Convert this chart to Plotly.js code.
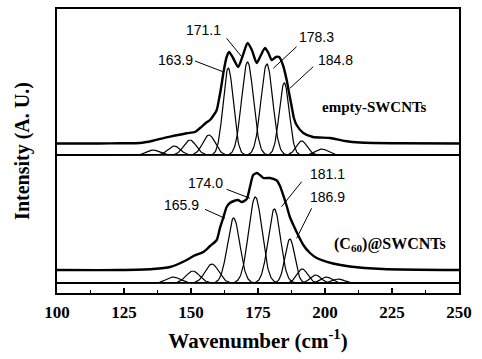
<!DOCTYPE html>
<html><head><meta charset="utf-8">
<script src="https://cdn.plot.ly/plotly-3.0.1.min.js"></script>
<style>html,body{margin:0;padding:0;background:#fff}#chart{width:482px;height:359px}</style>
</head><body><div id="chart"></div>
<script>
const emptyWavenumber = [100,116,123.5,131,135.8,142.2,148.4,151.5,153.4,155.5,157.1,158.5,159.6,160.4,161.2,162.2,163.3,164.2,165.7,167.6,169.4,171.1,172.7,174.5,176.1,177.6,178.9,180.1,181.7,182.9,184.3,185.7,186.6,187.6,188.4,189.4,191.9,195.5,201.9,207.5,213,228,250];
const emptyIntensity  = [149.5,149.5,149.7,150,152.3,156.3,159.7,161,165,170,173,178,183,193,205,222,236,241,235,226,238,250,243,230,238,245,240,233,236,236,228,213,200,186,175,168,160,156,155,152,150.5,149.7,149.5];

const c60Wavenumber = [100,123.5,135.8,142.2,148.4,150.9,154.6,157.1,159.6,160.8,162,163.3,164.5,166,167.5,169,170.8,172,173.2,174.6,175.7,177,179.5,182,183.2,184.4,185.7,186.9,188.2,189.4,191.9,194.4,196.9,203,209.3,221.6,250];
const c60Intensity  = [23,23,24,26,33,37,41,47,53,65,75,86,90,92,93,91,94,106,118,120,118,115,115,112.5,107,98,87,76,68,61,48,40,35,29.5,26.5,24,23];

// ---- fitted components: centre (cm-1), height, width (sigma, cm-1) ----
const emptyPeakCenters = [135.8,143.7,149.6,156.7,163.9,171.1,178.3,184.8,191.3,198.8];
const emptyPeakHeights = [5,9,15,20,87,93,91,72,14,6];
const emptyPeakWidths  = [2.3,2.3,2.3,2.3,1.9,2.2,2.2,1.85,2.0,2.3];
const emptyBaseline = 138;

const c60PeakCenters = [143.3,150.7,157.8,165.9,174.0,181.1,186.9,191.5,196.5,200.5,205];
const c60PeakHeights = [6,12,19,65,86,74,44,14,8,6,4];
const c60PeakWidths  = [2.5,2.5,2.5,2.3,2.5,2.3,1.8,2.0,2.0,2.0,2.2];
const c60Baseline = 10;

// ---- labels ----
const peakLabels = ['163.9','171.1','178.3','184.8','165.9','174.0','181.1','186.9'];
const xTickVals = [100,125,150,175,200,225,250];

const grid = [];
for (let x = 100; x <= 250.0001; x += 0.2) grid.push(+x.toFixed(2));

function comp(c, h, s, base) {
  return grid.map(x => base + h * Math.exp(-((x - c) ** 2) / (2 * s * s)));
}

const traces = [];
const compLine = {color:'#000', width:1.2};
emptyPeakCenters.forEach((c, i) => traces.push({x:grid, y:comp(c, emptyPeakHeights[i], emptyPeakWidths[i], emptyBaseline), mode:'lines', line:compLine, hoverinfo:'skip'}));
c60PeakCenters.forEach((c, i) => traces.push({x:grid, y:comp(c, c60PeakHeights[i], c60PeakWidths[i], c60Baseline), mode:'lines', line:compLine, hoverinfo:'skip'}));
traces.push({x:emptyWavenumber, y:emptyIntensity, mode:'lines', line:{color:'#000', width:2.4, shape:'spline', smoothing:0.6}});
traces.push({x:c60Wavenumber, y:c60Intensity, mode:'lines', line:{color:'#000', width:2.4, shape:'spline', smoothing:0.6}});

const serifFam = 'Liberation Serif, Times New Roman, serif';
const numFont = {family:'Liberation Sans, Arial, sans-serif', size:14, color:'#000'};
const serifBold = {family:serifFam, size:15, color:'#000', weight:'bold'};

const labelPos = [[144.4,233],[154.5,263],[196.9,256],[203.9,233],[146.5,88],[155.4,110.5],[200.9,119.5],[200.9,96.3]];
const leaders = [
  [151.5,232,161.9,221.3],[163.3,254.7,168.9,236.3],[189.4,246.3,180.7,224.7],[195.6,226.3,186.9,204.7],
  [155.2,83.7,162.7,74.7],[163.3,103.7,172,94.7],[191.3,111.3,183.8,86.3],[195,84.7,189.4,54.7]
];

const annotations = peakLabels.map((t, i) => ({x:labelPos[i][0], y:labelPos[i][1], xref:'x', yref:'y', text:t, showarrow:false, font:numFont}));
annotations.push({x:218.6, y:186, xref:'x', yref:'y', text:'<b>empty-SWCNTs</b>', showarrow:false, font:serifBold});
annotations.push({x:224.2, y:48.5, xref:'x', yref:'y', text:'<b>(C<sub>60</sub>)@SWCNTs</b>', showarrow:false, font:{...serifBold, size:16}});

const shapes = leaders.map(l => ({type:'line', xref:'x', yref:'y', x0:l[0], y0:l[1], x1:l[2], y1:l[3], line:{color:'#000', width:1}}));

const layout = {
  width:482, height:359,
  margin:{l:57, r:23, t:9, b:66},
  paper_bgcolor:'#fff', plot_bgcolor:'#fff',
  showlegend:false,
  xaxis:{
    range:[100,250], tickvals:xTickVals, ticktext:xTickVals.map(String),
    ticks:'inside', ticklen:5, tickwidth:1.5, tickcolor:'#000',
    minor:{ticks:'inside', ticklen:3, tickwidth:1, tickcolor:'#000', dtick:12.5, tick0:100},
    showline:true, linewidth:2, linecolor:'#000', mirror:true,
    showgrid:false, zeroline:false,
    tickfont:{family:serifFam, size:17, color:'#000', weight:'bold'},
    ticklabelstandoff:3,
    title:{text:'<b>Wavenumber (cm<sup>-1</sup>)</b>', font:{family:serifFam, size:21, color:'#000'}, standoff:12}
  },
  yaxis:{
    range:[0,284], showticklabels:false, ticks:'',
    showline:true, linewidth:2, linecolor:'#000', mirror:true,
    showgrid:false, zeroline:false,
    title:{text:'<b>Intensity (A. U.)</b>', font:{family:serifFam, size:20, color:'#000'}, standoff:20}
  },
  annotations, shapes
};

Plotly.newPlot('chart', traces, layout, {displayModeBar:false, staticPlot:true});
</script>
</body></html>
